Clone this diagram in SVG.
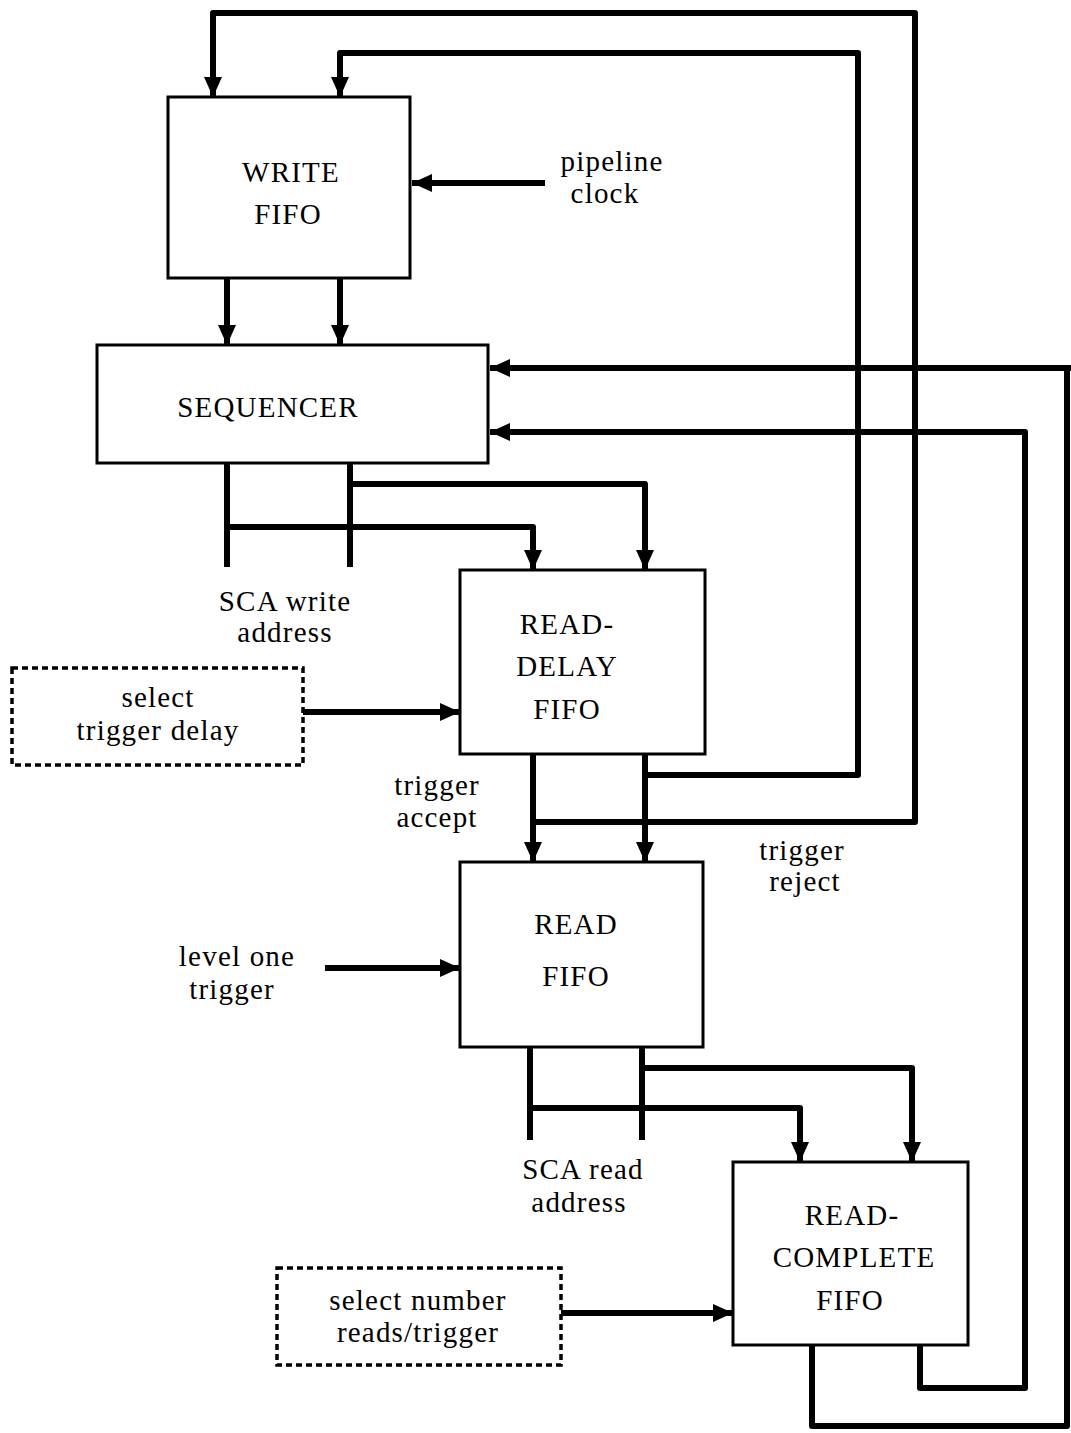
<svg xmlns="http://www.w3.org/2000/svg" width="1071" height="1433" viewBox="0 0 1071 1433">
<defs>
<style>
.box{fill:#fff;stroke:#000;stroke-width:3}
.dbox{fill:#fff;stroke:#000;stroke-width:3.5;stroke-dasharray:6 4}
.c{fill:none;stroke:#000;stroke-width:6;stroke-linejoin:round}
text{font-family:"Liberation Serif","Times New Roman",serif;font-size:29px;letter-spacing:1.2px;fill:#000;text-anchor:middle}
</style>
<marker id="ah" markerUnits="userSpaceOnUse" markerWidth="22" markerHeight="20" refX="20" refY="9" orient="auto" viewBox="0 0 22 20">
<path d="M0,0 L20,9 L0,18 z" fill="#000"/>
</marker>
</defs>
<rect width="1071" height="1433" fill="#fff"/>
<g id="connectors">
<path class="c" d="M545,183 H412" marker-end="url(#ah)"/>
<path class="c" d="M227,278 V345" marker-end="url(#ah)"/>
<path class="c" d="M340,278 V345" marker-end="url(#ah)"/>
<path class="c" d="M533,822 H915 V13 H213 V97" marker-end="url(#ah)"/>
<path class="c" d="M645,775 H858 V53 H340 V97" marker-end="url(#ah)"/>
<path class="c" d="M1071,368 H490" marker-end="url(#ah)"/>
<path class="c" d="M812,1345 V1426 H1067 V368"/>
<path class="c" d="M920,1345 V1388 H1025 V432 H490" marker-end="url(#ah)"/>
<path class="c" d="M227,463 V567"/>
<path class="c" d="M350,463 V567"/>
<path class="c" d="M227,527 H533 V570" marker-end="url(#ah)"/>
<path class="c" d="M350,484 H645 V570" marker-end="url(#ah)"/>
<path class="c" d="M303,712 H460" marker-end="url(#ah)"/>
<path class="c" d="M533,754 V862" marker-end="url(#ah)"/>
<path class="c" d="M645,754 V862" marker-end="url(#ah)"/>
<path class="c" d="M325,968 H460" marker-end="url(#ah)"/>
<path class="c" d="M530,1047 V1140"/>
<path class="c" d="M642,1047 V1140"/>
<path class="c" d="M530,1108 H800 V1162" marker-end="url(#ah)"/>
<path class="c" d="M642,1068 H912 V1162" marker-end="url(#ah)"/>
<path class="c" d="M561,1313 H733" marker-end="url(#ah)"/>
</g>
<g id="write-fifo">
<rect class="box" x="168" y="97" width="242" height="181"/>
<text x="291" y="182">WRITE</text>
<text x="288" y="224">FIFO</text>
</g>
<g id="pipeline-clock">
<text x="612" y="171">pipeline</text>
<text x="605" y="203">clock</text>
</g>
<g id="sequencer">
<rect class="box" x="97" y="345" width="391" height="118"/>
<text x="268" y="417">SEQUENCER</text>
</g>
<g id="sca-write-address">
<text x="285" y="611">SCA write</text>
<text x="285" y="642">address</text>
</g>
<g id="read-delay-fifo">
<rect class="box" x="460" y="570" width="245" height="184"/>
<text x="567" y="634">READ-</text>
<text x="567" y="676">DELAY</text>
<text x="567" y="719">FIFO</text>
</g>
<g id="select-trigger-delay">
<rect class="dbox" x="12" y="668" width="291" height="97"/>
<text x="158" y="707">select</text>
<text x="158" y="740">trigger delay</text>
</g>
<g id="trigger-accept">
<text x="437" y="795">trigger</text>
<text x="437" y="827">accept</text>
</g>
<g id="trigger-reject">
<text x="802" y="860">trigger</text>
<text x="805" y="891">reject</text>
</g>
<g id="read-fifo">
<rect class="box" x="460" y="862" width="243" height="185"/>
<text x="576" y="934">READ</text>
<text x="576" y="986">FIFO</text>
</g>
<g id="level-one-trigger">
<text x="237" y="966">level one</text>
<text x="232" y="999">trigger</text>
</g>
<g id="sca-read-address">
<text x="583" y="1179">SCA read</text>
<text x="579" y="1212">address</text>
</g>
<g id="read-complete-fifo">
<rect class="box" x="733" y="1162" width="235" height="183"/>
<text x="852" y="1225">READ-</text>
<text x="854" y="1267">COMPLETE</text>
<text x="850" y="1310">FIFO</text>
</g>
<g id="select-number">
<rect class="dbox" x="277" y="1268" width="284" height="97"/>
<text x="418" y="1310">select number</text>
<text x="418" y="1342">reads/trigger</text>
</g>
</svg>
